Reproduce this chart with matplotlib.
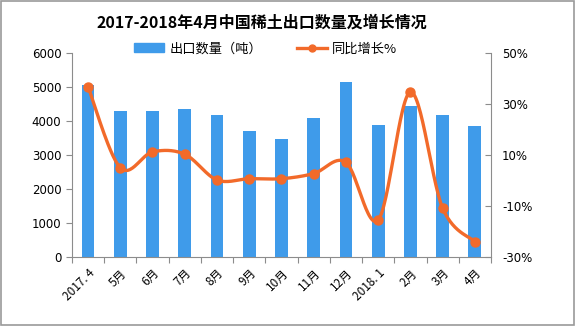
import numpy as np
import matplotlib
matplotlib.use("Agg")
import matplotlib.pyplot as plt
from matplotlib.patches import Rectangle
from matplotlib.lines import Line2D

plt.rcParams['font.family'] = ['Noto Sans CJK SC', 'DejaVu Sans']

categories = ["2017. 4", "5月", "6月", "7月", "8月", "9月", "10月", "11月",
              "12月", "2018. 1", "2月", "3月", "4月"]
export_volume = [5060, 4300, 4300, 4350, 4180, 3710, 3470, 4090,
                 5150, 3880, 4450, 4180, 3850]
yoy_growth = [36.8, 5.0, 11.2, 10.3, 0.2, 0.7, 0.7, 2.7,
              7.1, -15.5, 34.7, -10.9, -24.0]

left_ticks = [0, 1000, 2000, 3000, 4000, 5000, 6000]
right_ticks = [-30, -10, 10, 30, 50]

BAR_COLOR = "#3f9bea"
LINE_COLOR = "#f26a2a"
AXIS_COLOR = "#8c8c8c"


def smooth_curve(x, y, steps=30, tension=1/6):
    """Cubic Bezier smoothing through every point (spreadsheet-style)."""
    x = np.asarray(x, float)
    y = np.asarray(y, float)
    n = len(x)
    xs, ys = [], []
    for i in range(n - 1):
        p0 = np.array([x[max(i - 1, 0)], y[max(i - 1, 0)]])
        p1 = np.array([x[i], y[i]])
        p2 = np.array([x[i + 1], y[i + 1]])
        p3 = np.array([x[min(i + 2, n - 1)], y[min(i + 2, n - 1)]])
        c1 = p1 + (p2 - p0) * tension
        c2 = p2 - (p3 - p1) * tension
        t = np.linspace(0, 1, steps)[:, None]
        pts = ((1 - t) ** 3) * p1 + 3 * ((1 - t) ** 2) * t * c1 \
            + 3 * (1 - t) * t ** 2 * c2 + t ** 3 * p2
        xs.append(pts[:, 0])
        ys.append(pts[:, 1])
    return np.concatenate(xs), np.concatenate(ys)


fig = plt.figure(figsize=(5.75, 3.26), dpi=100)
fig.patches.append(Rectangle((0.001, 0.002), 0.997, 0.995, transform=fig.transFigure,
                             fill=False, edgecolor="#9a9a9a", linewidth=1.2))

ax = fig.add_axes([0.125, 0.2117, 0.729, 0.6258])
x = np.arange(len(categories))
ax.bar(x, export_volume, width=0.40, color=BAR_COLOR, zorder=2,
       label="出口数量（吨）")
ax.set_xlim(-0.5, len(categories) - 0.5)
ax.set_ylim(0, 6000)
ax.set_yticks(left_ticks)
ax.set_yticklabels([str(v) for v in left_ticks], fontsize=8.5,
                   family=['DejaVu Sans'])
ax.set_xticks(np.arange(len(categories) + 1) - 0.5)
ax.set_xticklabels([])
ax.set_xticks(x, minor=True)
ax.set_xticklabels(categories, minor=True, rotation=45, ha="right",
                   va="top", fontsize=8.5, rotation_mode="anchor")
ax.tick_params(axis="x", which="minor", length=0, pad=7)
ax.tick_params(axis="x", which="major", length=4, color=AXIS_COLOR, direction="out")
ax.tick_params(axis="y", length=4, color=AXIS_COLOR, direction="out")
for side in ("top", "right"):
    ax.spines[side].set_visible(False)
for side in ("left", "bottom"):
    ax.spines[side].set_color(AXIS_COLOR)

ax2 = ax.twinx()
ax2.set_ylim(-30, 50)
ax2.set_yticks(right_ticks)
ax2.set_yticklabels([f"{v}%" for v in right_ticks], fontsize=8.5,
                    family=['DejaVu Sans'])
ax2.tick_params(axis="y", length=4, color=AXIS_COLOR, direction="in", pad=8)
for side in ("top", "left", "bottom"):
    ax2.spines[side].set_visible(False)
ax2.spines["right"].set_color(AXIS_COLOR)

sx, sy = smooth_curve(x, yoy_growth)
ax2.plot(sx, sy, color=LINE_COLOR, linewidth=2.4, zorder=3)
ax2.plot(x, yoy_growth, linestyle="none", marker="o", markersize=6.5,
         color=LINE_COLOR, zorder=4)

# legend
handles = [Rectangle((0, 0), 1, 1, color=BAR_COLOR),
           Line2D([0], [0], color=LINE_COLOR, linewidth=2.4, marker="o",
                  markersize=5)]
fig.legend(handles, ["出口数量（吨）", "同比增长%"], loc="center",
           bbox_to_anchor=(0.462, 0.85), ncol=2, frameon=False, fontsize=9.5,
           handlelength=2.3, columnspacing=2.6, handletextpad=0.4)

fig.text(0.455, 0.93, "2017-2018年4月中国稀土出口数量及增长情况", ha="center",
         va="center", fontsize=11.5, fontweight="bold")

fig.savefig("out.png", dpi=100)
